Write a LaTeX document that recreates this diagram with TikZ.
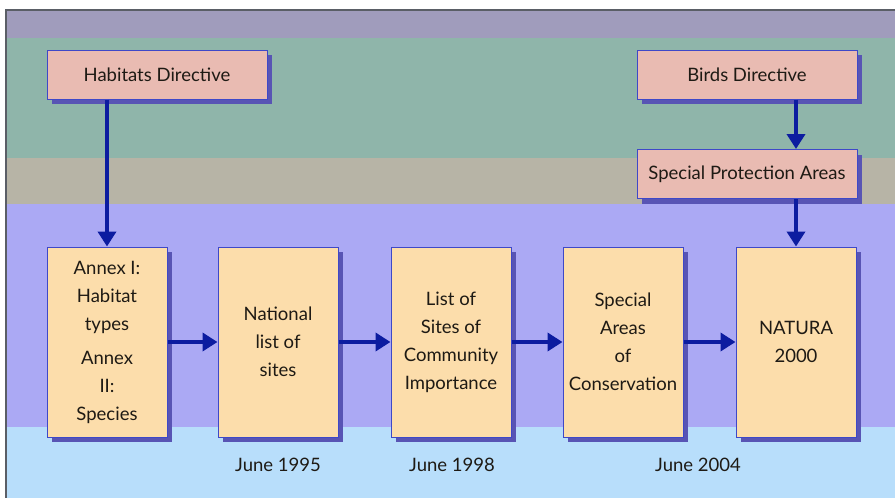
\documentclass[tikz,border=0pt]{standalone}
\usepackage{fontspec}
\setmainfont{Lato}
\usetikzlibrary{arrows.meta,shadows}
\definecolor{bandA}{HTML}{A09CBC}
\definecolor{bandB}{HTML}{8FB5AA}
\definecolor{bandC}{HTML}{B7B4A6}
\definecolor{bandD}{HTML}{ABA9F4}
\definecolor{bandE}{HTML}{B8DEFB}
\definecolor{frame}{HTML}{5A5E66}
\definecolor{pinkfill}{HTML}{E9BBB2}
\definecolor{peachfill}{HTML}{FCDDAB}
\definecolor{boxline}{HTML}{3E48C8}
\definecolor{shadowc}{HTML}{5854B4}
\definecolor{arrowc}{HTML}{0C1CA0}
\definecolor{textc}{HTML}{1E1A14}
\begin{document}
\begin{tikzpicture}[x=1pt,y=-1pt,
  basebox/.style={draw=boxline, line width=1pt, align=center, inner sep=0pt,
    text=textc, font=\fontsize{18.5}{28}\selectfont,
    drop shadow={shadow xshift=5pt, shadow yshift=-5pt, fill=shadowc, opacity=1}},
  topbox/.style={basebox, fill=pinkfill, minimum width=220pt, minimum height=49pt},
  flowbox/.style={basebox, fill=peachfill, minimum width=120pt, minimum height=190pt},
  datelabel/.style={text=textc, font=\fontsize{18.5}{22}\selectfont, inner sep=0pt},
  link/.style={draw=arrowc, line width=4pt, -{Triangle[length=15pt,width=18pt]}}]
\useasboundingbox (0,0) rectangle (895,498);
\fill[white] (0,0) rectangle (895,498);
\fill[bandA] (6,10) rectangle (895,38);
\fill[bandB] (6,38) rectangle (895,158);
\fill[bandC] (6,158) rectangle (895,204);
\fill[bandD] (6,204) rectangle (895,427);
\fill[bandE] (6,427) rectangle (895,498);
\draw[frame, line width=2pt] (6,498) -- (6,10) -- (895,10);

\node[topbox] (hab) at (157,74.5) {Habitats Directive};
\node[topbox] (birds) at (747,74.5) {Birds Directive};
\node[topbox] (spa) at (747,174) {Special Protection Areas};

\node[flowbox] (annex) at (107,342) {Annex I:\\Habitat\\types\\[6pt]Annex\\II:\\Species};
\node[flowbox] (nat) at (278,342) {National\\list of\\sites};
\node[flowbox] (sci) at (451,342) {List of\\Sites of\\Community\\Importance};
\node[flowbox] (sac) at (623,342) {Special\\Areas\\of\\Conservation};
\node[flowbox] (natura) at (796,342) {NATURA\\2000};

\node[datelabel] (d1) at (278,465) {June 1995};
\node[datelabel] (d2) at (452,465) {June 1998};
\node[datelabel] (d3) at (698,465) {June 2004};

\draw[link] (hab.south -| annex.north) -- (annex.north);
\draw[link] (birds.south -| natura.north) -- (spa.north -| natura.north);
\draw[link] (spa.south -| natura.north) -- (natura.north);
\draw[link] (annex.east) -- (nat.west);
\draw[link] (nat.east) -- (sci.west);
\draw[link] (sci.east) -- (sac.west);
\draw[link] (sac.east) -- (natura.west);
\end{tikzpicture}
\end{document}
